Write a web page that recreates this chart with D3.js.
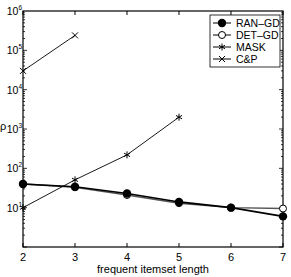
<!DOCTYPE html>
<html>
<head>
<meta charset="utf-8">
<script src="https://cdn.jsdelivr.net/npm/d3@7"></script>
<style>
  body { margin: 0; background: #fff; }
  text { font-family: "Liberation Sans", Arial, sans-serif; }
</style>
</head>
<body>
<svg id="chart"></svg>
<script>
// itemset lengths and rho values
const lengths = [2, 3, 4, 5, 6, 7];
const ranGD = [40, 34, 23, 14, 10, 6];
const detGD = [40, 33, 21, 13, 10, 9.5];
const maskLengths = [2, 3, 4, 5];
const mask = [10, 51, 220, 2000];
const cpLengths = [2, 3];
const cp = [30000, 240000];
const yTicks = [1, 2, 3, 4, 5, 6];

const width = 291, height = 277;
const plotLeft = 23, plotRight = 283, plotTop = 11, plotBottom = 247;

const svg = d3.select('#chart').attr('width', width).attr('height', height);

const x = d3.scaleLinear().domain([2, 7]).range([plotLeft, plotRight]);
const y = d3.scaleLog().domain([1, 1e6]).range([plotBottom, plotTop]);

// frame
svg.append('rect')
    .attr('x', plotLeft).attr('y', plotTop)
    .attr('width', plotRight - plotLeft).attr('height', plotBottom - plotTop)
    .style('fill', 'none').style('stroke', '#000').style('stroke-width', 1.2);

// x ticks (bottom and top, inward)
lengths.forEach((d) => {
    svg.append('line').attr('x1', x(d)).attr('x2', x(d)).attr('y1', plotBottom).attr('y2', plotBottom - 4)
        .style('stroke', '#000');
    svg.append('line').attr('x1', x(d)).attr('x2', x(d)).attr('y1', plotTop).attr('y2', plotTop + 4)
        .style('stroke', '#000');
    svg.append('text').attr('x', x(d)).attr('y', plotBottom + 14)
        .attr('text-anchor', 'middle').style('font-size', '11px').text(d);
});

// y ticks, major and minor, both sides
for (let e = 0; e < 6; e++) {
    for (let m = 1; m < 10; m++) {
        const v = m * Math.pow(10, e);
        const len = m === 1 ? 4 : 2;
        svg.append('line').attr('x1', plotLeft).attr('x2', plotLeft + len).attr('y1', y(v)).attr('y2', y(v))
            .style('stroke', '#000').style('stroke-width', 0.8);
        svg.append('line').attr('x1', plotRight).attr('x2', plotRight - len).attr('y1', y(v)).attr('y2', y(v))
            .style('stroke', '#000').style('stroke-width', 0.8);
    }
}
yTicks.forEach((e) => {
    const t = svg.append('text').attr('x', plotLeft - 1).attr('y', y(Math.pow(10, e)) + 4)
        .attr('text-anchor', 'end').style('font-size', '10.5px');
    t.append('tspan').text('10');
    t.append('tspan').attr('dy', -5).style('font-size', '6.5px').text(e);
});

svg.append('text').attr('x', 0).attr('y', 130).style('font-size', '11px').text('ρ');
svg.append('text').attr('x', (plotLeft + plotRight) / 2).attr('y', 273)
    .attr('text-anchor', 'middle').style('font-size', '11px').text('frequent itemset length');

const line = d3.line().x((d) => x(d[0])).y((d) => y(d[1]));

function drawMarker(g, type, cx, cy) {
    if (type === 'filled') {
        g.append('circle').attr('cx', cx).attr('cy', cy).attr('r', 4.2).style('fill', '#000');
    } else if (type === 'open') {
        g.append('circle').attr('cx', cx).attr('cy', cy).attr('r', 3.5)
            .style('fill', '#fff').style('stroke', '#000').style('stroke-width', 1);
    } else if (type === 'star') {
        const r = 3.5;
        [0, 60, 120].forEach((a) => {
            const rad = a * Math.PI / 180;
            g.append('line')
                .attr('x1', cx - r * Math.sin(rad)).attr('y1', cy - r * Math.cos(rad))
                .attr('x2', cx + r * Math.sin(rad)).attr('y2', cy + r * Math.cos(rad))
                .style('stroke', '#000').style('stroke-width', 1);
        });
    } else {
        const r = 3;
        g.append('path').attr('d', `M${cx - r},${cy - r}L${cx + r},${cy + r}M${cx - r},${cy + r}L${cx + r},${cy - r}`)
            .style('stroke', '#000').style('stroke-width', 1);
    }
}

const series = [
    { name: 'RAN\u2013GD', xs: lengths, ys: ranGD, marker: 'filled', color: '#000', w: 1.6 },
    { name: 'DET\u2013GD', xs: lengths, ys: detGD, marker: 'open', color: '#555', w: 1.4 },
    { name: 'MASK', xs: maskLengths, ys: mask, marker: 'star', color: '#000', w: 0.9 },
    { name: 'C&P', xs: cpLengths, ys: cp, marker: 'cross', color: '#000', w: 0.9 },
];

// draw DET first, RAN over it
[1, 0, 2, 3].forEach((i) => {
    const s = series[i];
    const pts = s.xs.map((v, k) => [v, s.ys[k]]);
    const g = svg.append('g');
    g.append('path').datum(pts).attr('d', line)
        .style('fill', 'none').style('stroke', s.color).style('stroke-width', s.w);
    pts.forEach((p) => drawMarker(g, s.marker, x(p[0]), y(p[1])));
});

// legend
const lg = svg.append('g');
lg.append('rect').attr('x', 210).attr('y', 15).attr('width', 70).attr('height', 52)
    .style('fill', '#fff').style('stroke', '#000').style('stroke-width', 0.8);
series.forEach((s, i) => {
    const ly = 23 + i * 12;
    lg.append('line').attr('x1', 213).attr('x2', 231).attr('y1', ly).attr('y2', ly)
        .style('stroke', '#000').style('stroke-width', 1);
    drawMarker(lg, s.marker, 222, ly);
    lg.append('text').attr('x', 236).attr('y', ly + 4).style('font-size', '10.5px').text(s.name);
});
</script>
</body>
</html>
